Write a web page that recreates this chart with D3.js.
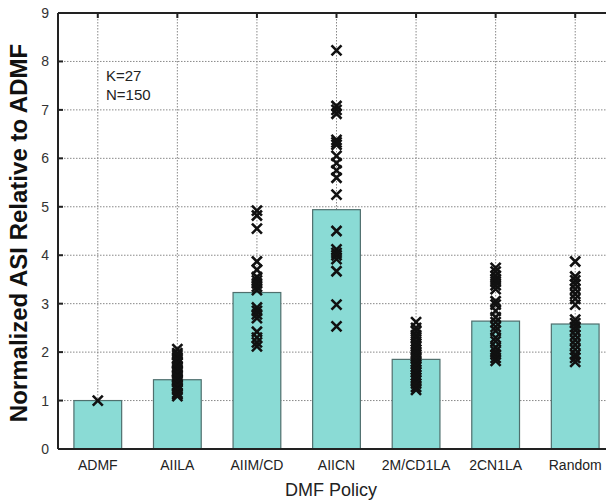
<!DOCTYPE html>
<html>
<head>
<meta charset="utf-8">
<script src="https://cdn.jsdelivr.net/npm/d3@7"></script>
<style>
  body { margin: 0; background: #fff; }
  text { font-family: "Liberation Sans", Arial, sans-serif; }
</style>
</head>
<body>
<div id="chart"></div>
<script>

var policies = ["ADMF", "AIILA", "AIIM/CD", "AIICN", "2M/CD1LA", "2CN1LA", "Random"];
var bar_values = [1.0, 1.43, 3.23, 4.94, 1.85, 2.64, 2.58];

// individual runs, one array per policy
var runs_admf = [1.0];
var runs_aiila = [2.06, 1.98, 1.94, 1.87, 1.84, 1.79, 1.77, 1.71, 1.69, 1.63, 1.6, 1.57, 1.51, 1.49, 1.44, 1.41, 1.38, 1.32, 1.3, 1.24, 1.22, 1.16, 1.13, 1.09];
var runs_aiimcd = [4.92, 4.82, 4.55, 3.87, 3.7, 3.55, 3.48, 3.42, 3.35, 3.28, 2.92, 2.85, 2.78, 2.7, 2.42, 2.3, 2.2, 2.12];
var runs_aiicn = [8.23, 7.08, 7.0, 6.92, 6.38, 6.33, 6.28, 6.05, 5.9, 5.75, 5.6, 5.25, 4.5, 4.12, 4.05, 4.0, 3.92, 3.67, 2.98, 2.53];
var runs_2mcd1la = [2.62, 2.5, 2.43, 2.35, 2.3, 2.22, 2.17, 2.11, 2.05, 2.0, 1.96, 1.9, 1.86, 1.8, 1.75, 1.7, 1.64, 1.59, 1.52, 1.47, 1.41, 1.35, 1.28, 1.22];
var runs_2cn1la = [3.74, 3.66, 3.58, 3.51, 3.45, 3.38, 3.3, 3.05, 2.98, 2.85, 2.72, 2.62, 2.52, 2.44, 2.3, 2.22, 2.1, 2.02, 1.95, 1.88, 1.82];
var runs_random = [3.87, 3.56, 3.48, 3.4, 3.3, 3.2, 3.1, 2.98, 2.67, 2.6, 2.52, 2.45, 2.35, 2.25, 2.15, 2.05, 1.95, 1.88, 1.8];

var y_ticks = [0, 1, 2, 3, 4, 5, 6, 7, 8, 9];

var all_runs = [runs_admf, runs_aiila, runs_aiimcd, runs_aiicn, runs_2mcd1la, runs_2cn1la, runs_random];

var points = [];
all_runs.forEach(function (arr, i) {
    arr.forEach(function (v) { points.push({policy: policies[i], value: v}); });
});

var width = 606, height = 502;
var margin = {top: 13, left: 58, bottom: 53};
var plot_right = 615;

var svg = d3.select("#chart")
    .append("svg")
    .attr("width", width)
    .attr("height", height);

var xScale = d3.scaleBand()
    .domain(policies)
    .range([margin.left, plot_right])
    .paddingInner(0.4)
    .paddingOuter(0.2);

var yScale = d3.scaleLinear()
    .domain([0, 9])
    .range([height - margin.bottom, margin.top]);

// grid
svg.append("g")
    .selectAll("line.hgrid")
    .data(y_ticks.slice(1, -1))
    .enter()
    .append("line")
    .attr("class", "hgrid")
    .attr("x1", margin.left)
    .attr("x2", plot_right)
    .attr("y1", function (d) { return yScale(d); })
    .attr("y2", function (d) { return yScale(d); })
    .style("stroke", "#888")
    .style("stroke-width", 1)
    .style("stroke-dasharray", "1.5,1.5");

svg.append("g")
    .selectAll("line.vgrid")
    .data(policies)
    .enter()
    .append("line")
    .attr("class", "vgrid")
    .attr("x1", function (d) { return xScale(d) + xScale.bandwidth() / 2; })
    .attr("x2", function (d) { return xScale(d) + xScale.bandwidth() / 2; })
    .attr("y1", yScale(9))
    .attr("y2", yScale(0))
    .style("stroke", "#888")
    .style("stroke-width", 1)
    .style("stroke-dasharray", "1.5,1.5");

// bars
svg.selectAll("rect.bar")
    .data(bar_values)
    .enter()
    .append("rect")
    .attr("class", "bar")
    .attr("x", function (d, i) { return xScale(policies[i]); })
    .attr("y", function (d) { return yScale(d); })
    .attr("width", xScale.bandwidth())
    .attr("height", function (d) { return yScale(0) - yScale(d); })
    .style("fill", "#8adbd5")
    .style("stroke", "#4f6f6d")
    .style("stroke-width", 1.2);

// x markers
var s = 5;
svg.selectAll("path.run")
    .data(points)
    .enter()
    .append("path")
    .attr("class", "run")
    .attr("transform", function (d) {
        return "translate(" + (xScale(d.policy) + xScale.bandwidth() / 2) + "," + yScale(d.value) + ")";
    })
    .attr("d", "M" + (-s) + "," + (-s) + "L" + s + "," + s + "M" + (-s) + "," + s + "L" + s + "," + (-s))
    .style("stroke", "#111")
    .style("stroke-width", 2.6)
    .style("fill", "none");

// frame
svg.append("line")
    .attr("x1", margin.left).attr("x2", plot_right)
    .attr("y1", yScale(9)).attr("y2", yScale(9))
    .style("stroke", "#222").style("stroke-width", 2);
svg.append("line")
    .attr("x1", margin.left).attr("x2", plot_right)
    .attr("y1", yScale(0)).attr("y2", yScale(0))
    .style("stroke", "#222").style("stroke-width", 2);
svg.append("line")
    .attr("x1", margin.left).attr("x2", margin.left)
    .attr("y1", yScale(9)).attr("y2", yScale(0))
    .style("stroke", "#222").style("stroke-width", 2);

// inward ticks
svg.selectAll("line.ytick")
    .data(y_ticks)
    .enter()
    .append("line")
    .attr("class", "ytick")
    .attr("x1", margin.left).attr("x2", margin.left + 5)
    .attr("y1", function (d) { return yScale(d); })
    .attr("y2", function (d) { return yScale(d); })
    .style("stroke", "#222").style("stroke-width", 2);

svg.selectAll("line.xtick")
    .data(policies)
    .enter()
    .append("line")
    .attr("class", "xtick")
    .attr("x1", function (d) { return xScale(d) + xScale.bandwidth() / 2; })
    .attr("x2", function (d) { return xScale(d) + xScale.bandwidth() / 2; })
    .attr("y1", yScale(9)).attr("y2", yScale(9) + 5)
    .style("stroke", "#222").style("stroke-width", 2);

// tick labels
svg.selectAll("text.ylab")
    .data(y_ticks)
    .enter()
    .append("text")
    .attr("class", "ylab")
    .attr("x", 49)
    .attr("y", function (d) { return yScale(d) + 5; })
    .attr("text-anchor", "end")
    .style("font-size", "14px")
    .style("fill", "#333")
    .text(function (d) { return d; });

svg.selectAll("text.xlab")
    .data(policies)
    .enter()
    .append("text")
    .attr("class", "xlab")
    .attr("x", function (d) { return xScale(d) + xScale.bandwidth() / 2; })
    .attr("y", 470)
    .attr("text-anchor", "middle")
    .style("font-size", "14px")
    .style("fill", "#222")
    .text(function (d) { return d; });

// axis titles
svg.append("text")
    .attr("x", 331)
    .attr("y", 496)
    .attr("text-anchor", "middle")
    .style("font-size", "18px")
    .style("fill", "#222")
    .text("DMF Policy");

svg.append("text")
    .attr("transform", "translate(27," + 233 + ") rotate(-90)")
    .attr("text-anchor", "middle")
    .style("font-size", "24px")
    .style("font-weight", "bold")
    .style("fill", "#111")
    .text("Normalized ASI Relative to ADMF");

// annotation
svg.append("text")
    .attr("x", 106).attr("y", 81)
    .style("font-size", "15px").style("fill", "#222")
    .text("K=27");
svg.append("text")
    .attr("x", 106).attr("y", 100)
    .style("font-size", "15px").style("fill", "#222")
    .text("N=150");

</script>
</body>
</html>
